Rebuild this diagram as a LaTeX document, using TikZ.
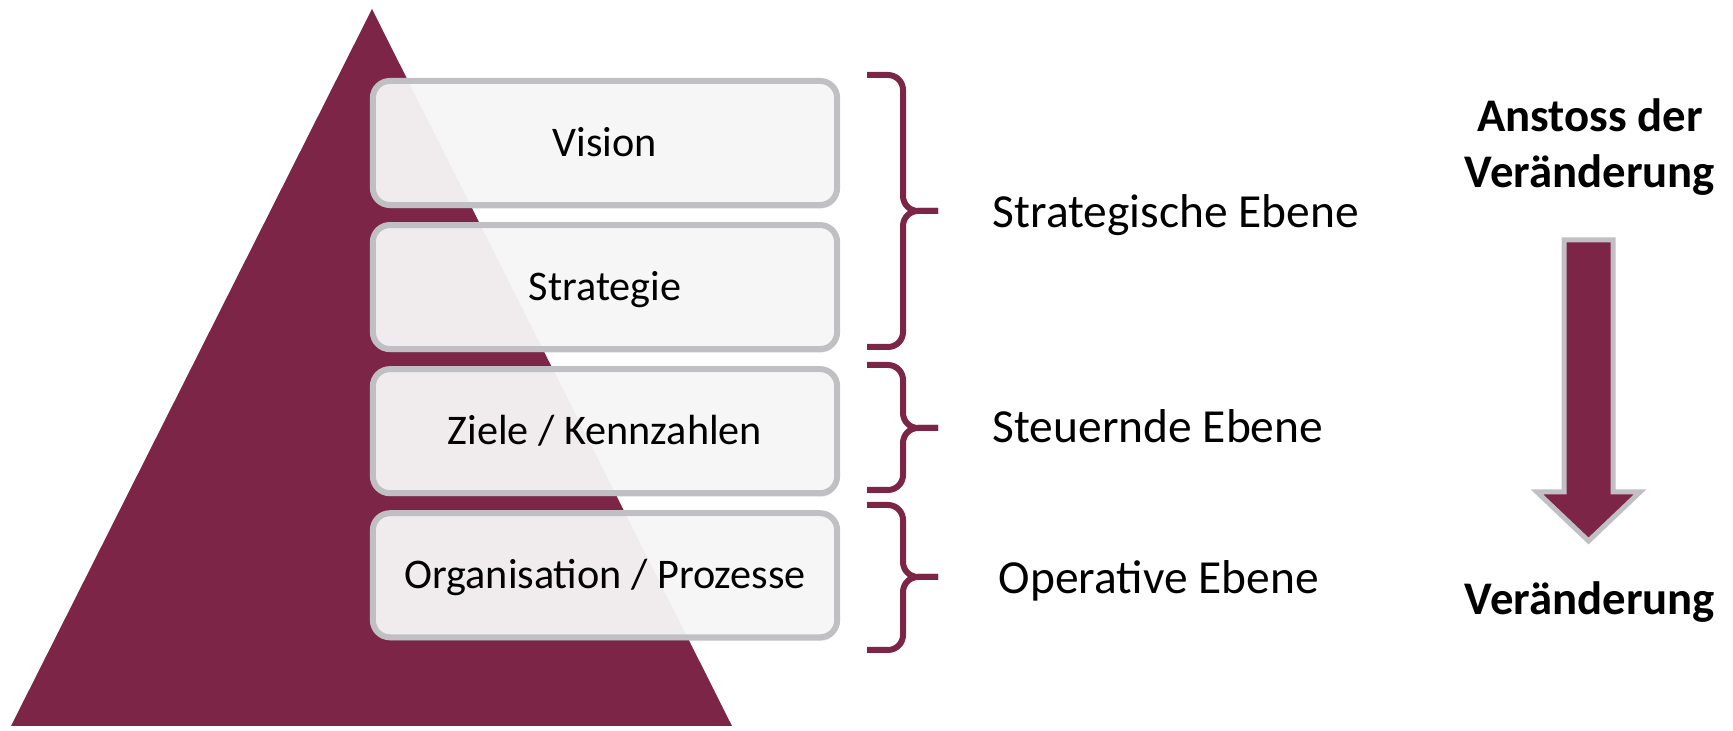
\documentclass[tikz,border=0pt]{standalone}
\usepackage{fontspec}
\setmainfont{Carlito}
\usetikzlibrary{positioning,shadows}

\definecolor{wein}{RGB}{124,37,70}
\definecolor{rahmen}{RGB}{192,192,196}
\definecolor{fuell}{RGB}{249,249,249}
\def\px{0.01cm}

\tikzset{
  stufe/.style={draw=rahmen, line width=0.06cm, fill=fuell, fill opacity=0.93,
    text opacity=1, rounded corners=0.17cm, minimum width=4.64cm,
    minimum height=1.24cm, text height=0.27cm, text depth=0cm,
    font=\fontsize{12}{14}\selectfont,
    drop shadow={shadow xshift=0.01cm, shadow yshift=-0.035cm, opacity=0.22}},
  klammer/.style={draw=wein, line width=0.06cm, rounded corners=0.15cm},
  ebene/.style={anchor=base west, inner sep=0, font=\fontsize{13.5}{16}\selectfont},
  wandel/.style={inner sep=0, align=center, font=\fontsize{13.3}{15.9}\selectfont\bfseries}
}

\begin{document}
\begin{tikzpicture}[x=\px,y=-\px, node distance=0.14cm]
\useasboundingbox (0,0) rectangle (1733,731);
% pyramide
\fill [wein] (372,9) -- (732,726) -- (11,726) -- cycle;
% stufen
\node [stufe] (vision) at (605,143) {Vision};
\node [stufe, below=of vision] (strategie) {Strategie};
\node [stufe, below=of strategie] (ziele) {Ziele / Kennzahlen};
\node [stufe, below=of ziele] (orga) {Organisation / Prozesse};
% klammern, je zwei haelften
\draw [klammer] (867,75) -| (903,211) [rounded corners=0.08cm] -- (938,211);
\draw [klammer] (867,347) -| (903,211) [rounded corners=0.08cm] -- (938,211);
\draw [klammer] (867,365) -| (903,428) [rounded corners=0.08cm] -- (938,428);
\draw [klammer] (867,490) -| (903,428) [rounded corners=0.08cm] -- (938,428);
\draw [klammer] (867,505) -| (903,577) [rounded corners=0.08cm] -- (938,577);
\draw [klammer] (867,650) -| (903,577) [rounded corners=0.08cm] -- (938,577);
\node [ebene] (strat) at (992,228) {Strategische Ebene};
\node [ebene] (steuer) at (992,443) {Steuernde Ebene};
\node [ebene] (oper) at (998,594) {Operative Ebene};
% richtung der veraenderung
\node [wandel] (anstoss) at (1590,147) {Anstoss der\\Veränderung};
\draw [draw=rahmen, fill=wein, line width=0.05cm]
  (1564,240) -- (1613,240) -- (1613,492) -- (1640,492) -- (1588.5,541)
  -- (1537,492) -- (1564,492) -- cycle;
\node [wandel, anchor=base] (ziel) at (1590,615) {Veränderung};
\end{tikzpicture}
\end{document}
